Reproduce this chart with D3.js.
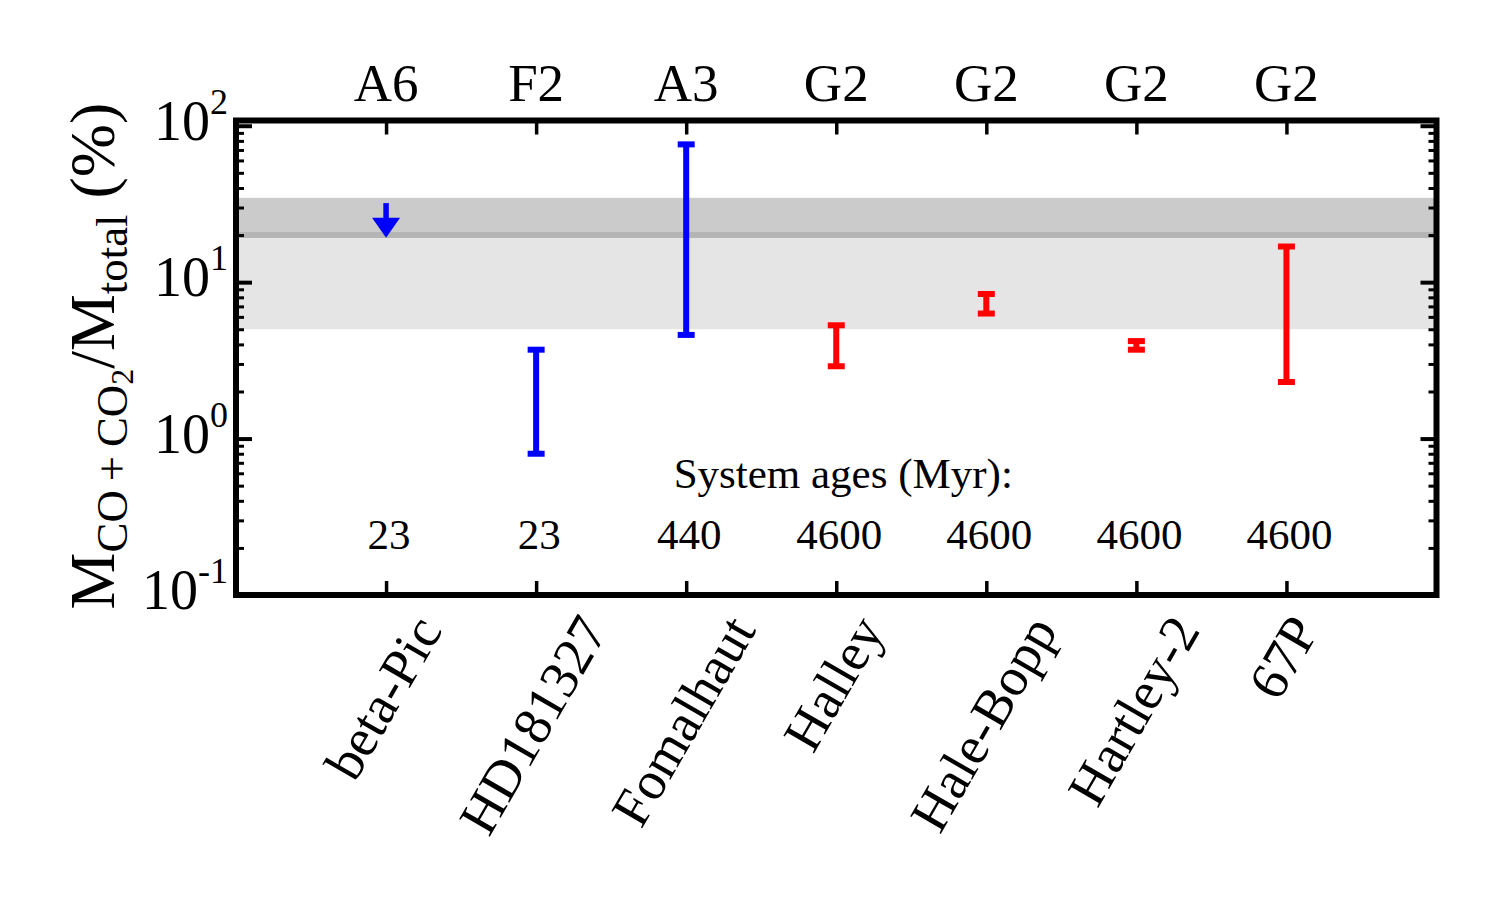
<!DOCTYPE html>
<html>
<head>
<meta charset="utf-8">
<script src="https://cdn.jsdelivr.net/npm/d3@7"></script>
<style>
  body { margin: 0; background: #fff; }
  text { font-family: "Liberation Serif", "Times New Roman", serif; fill: #000; }
</style>
</head>
<body>
<svg width="1500" height="900"></svg>
<script>
// data
const systems = ["beta-Pic", "HD181327", "Fomalhaut", "Halley", "Hale-Bopp", "Hartley-2", "67P"];
const spectralTypes = ["A6", "F2", "A3", "G2", "G2", "G2", "G2"];
const ages = ["23", "23", "440", "4600", "4600", "4600", "4600"];
const lowerVals = [null, 0.8, 4.6, 2.9, 6.3, 3.7, 2.3];
const upperVals = [null, 3.7, 76, 5.3, 8.4, 4.2, 16.9];
const pointColors = ["blue", "blue", "blue", "red", "red", "red", "red"];
// beta-Pic is an upper limit (arrow)
const limitName = "beta-Pic";
const limitTop = 32;
const limitTip = 19.2;
const limitHeadTop = 25.8;
// shaded ranges
const darkBand = [20, 34.6];
const lightBand = [5, 20];
const bandLine = 20;
const yMajor = [0.1, 1, 10, 100];
const yMajorExp = ["-1", "0", "1", "2"];

const svg = d3.select("svg");
const pLeft = 236, pRight = 1436.5, pTop = 120.5, pBottom = 595;

const x = d3.scalePoint().domain(systems).range([pLeft, pRight]).padding(1);
const y = d3.scaleLog().domain([0.1, 108]).range([pBottom, pTop]);

const g = svg.append("g");

// bands
g.append("rect")
  .attr("x", pLeft).attr("width", pRight - pLeft)
  .attr("y", y(darkBand[1])).attr("height", y(darkBand[0]) - y(darkBand[1]))
  .attr("fill", "#cbcbcb");
g.append("rect")
  .attr("x", pLeft).attr("width", pRight - pLeft)
  .attr("y", y(lightBand[1])).attr("height", y(lightBand[0]) - y(lightBand[1]))
  .attr("fill", "#e5e5e5");
g.append("line")
  .attr("x1", pLeft).attr("x2", pRight)
  .attr("y1", y(bandLine)).attr("y2", y(bandLine))
  .attr("stroke", "#b5b5b5").attr("stroke-width", 6);

// minor ticks
const yMinor = [];
[-1, 0, 1].forEach(e => { for (let k = 2; k <= 9; k++) yMinor.push(k * Math.pow(10, e)); });

function styleAxis(sel, w) {
  sel.select(".domain").remove();
  sel.selectAll(".tick line").attr("stroke", "#000").attr("stroke-width", w);
  sel.selectAll(".tick text").remove();
}

g.append("g").attr("transform", `translate(${pLeft},0)`)
  .call(d3.axisLeft(y).tickValues(yMajor).tickSize(-16))
  .call(s => styleAxis(s, 4));
g.append("g").attr("transform", `translate(${pLeft},0)`)
  .call(d3.axisLeft(y).tickValues(yMinor).tickSize(-8))
  .call(s => styleAxis(s, 3));
g.append("g").attr("transform", `translate(${pRight},0)`)
  .call(d3.axisRight(y).tickValues(yMajor).tickSize(-16))
  .call(s => styleAxis(s, 4));
g.append("g").attr("transform", `translate(${pRight},0)`)
  .call(d3.axisRight(y).tickValues(yMinor).tickSize(-8))
  .call(s => styleAxis(s, 3));
g.append("g").attr("transform", `translate(0,${pTop})`)
  .call(d3.axisTop(x).tickSize(-14))
  .call(s => styleAxis(s, 3.5));
g.append("g").attr("transform", `translate(0,${pBottom})`)
  .call(d3.axisBottom(x).tickSize(-14))
  .call(s => styleAxis(s, 3.5));

// frame
g.append("rect")
  .attr("x", pLeft).attr("y", pTop)
  .attr("width", pRight - pLeft).attr("height", pBottom - pTop)
  .attr("fill", "none").attr("stroke", "#000").attr("stroke-width", 6);

// error bars
const bars = systems.map((s, i) => ({ name: s, lo: lowerVals[i], hi: upperVals[i], c: pointColors[i] }))
  .filter(d => d.lo != null);
const capW = 8.5;
const eb = g.append("g");
eb.selectAll(".stem").data(bars).enter().append("line")
  .attr("x1", d => x(d.name)).attr("x2", d => x(d.name))
  .attr("y1", d => y(d.lo)).attr("y2", d => y(d.hi))
  .attr("stroke", d => d.c).attr("stroke-width", 6);
eb.selectAll(".capLo").data(bars).enter().append("line")
  .attr("x1", d => x(d.name) - capW).attr("x2", d => x(d.name) + capW)
  .attr("y1", d => y(d.lo)).attr("y2", d => y(d.lo))
  .attr("stroke", d => d.c).attr("stroke-width", 6);
eb.selectAll(".capHi").data(bars).enter().append("line")
  .attr("x1", d => x(d.name) - capW).attr("x2", d => x(d.name) + capW)
  .attr("y1", d => y(d.hi)).attr("y2", d => y(d.hi))
  .attr("stroke", d => d.c).attr("stroke-width", 6);

// upper limit arrow
const lx = x(limitName);
const limitColor = pointColors[systems.indexOf(limitName)];
g.append("line")
  .attr("x1", lx).attr("x2", lx)
  .attr("y1", y(limitTop)).attr("y2", y(limitHeadTop) + 1)
  .attr("stroke", limitColor).attr("stroke-width", 5.5);
g.append("path")
  .attr("d", `M${lx - 14},${y(limitHeadTop)} L${lx + 14},${y(limitHeadTop)} L${lx},${y(limitTip)} Z`)
  .attr("fill", limitColor);

// top labels (spectral types)
g.selectAll(".sp").data(systems).enter().append("text")
  .attr("x", d => x(d)).attr("y", 101)
  .attr("text-anchor", "middle").attr("font-size", 53)
  .text((d, i) => spectralTypes[i]);

// system ages
g.append("text")
  .attr("x", x("Halley") + 7).attr("y", 488)
  .attr("text-anchor", "middle").attr("font-size", 43)
  .text("System ages (Myr):");
g.selectAll(".age").data(systems).enter().append("text")
  .attr("x", d => x(d) + 3).attr("y", 549)
  .attr("text-anchor", "middle").attr("font-size", 43)
  .text((d, i) => ages[i]);

// y tick labels
yMajor.forEach((v, i) => {
  const t = g.append("text")
    .attr("x", 228).attr("y", y(v) + 14)
    .attr("text-anchor", "end").attr("font-size", 56);
  t.append("tspan").text("10");
  t.append("tspan").attr("font-size", 36).attr("dy", -26).text(yMajorExp[i]);
});

// rotated x labels
const xfs = 54;
const sin60 = Math.sin(Math.PI / 3), cos60 = 0.5;
systems.forEach(s => {
  const t = g.append("text")
    .attr("text-anchor", "middle").attr("font-size", xfs)
    .attr("dy", "0.34em")
    .text(s);
  const L = t.node().getComputedTextLength();
  const H = 1.1 * xfs;
  const cy = 606 + (L * sin60 + H * cos60) / 2;
  t.attr("transform", `translate(${x(s) - 3},${cy}) rotate(-60)`);
});

// y axis title
const F = 64;
const title = g.append("text")
  .attr("transform", `translate(114,356) rotate(-90)`)
  .attr("text-anchor", "middle").attr("font-size", F);
title.append("tspan").text("M");
title.append("tspan").attr("font-size", F * 0.7).attr("dy", F * 0.2).text("CO\u2009+\u2009CO");
title.append("tspan").attr("font-size", F * 0.5).attr("dy", F * 0.1).text("2");
title.append("tspan").attr("dy", -F * 0.3).text("/M");
title.append("tspan").attr("font-size", F * 0.7).attr("dy", F * 0.2).text("total");
title.append("tspan").attr("dy", -F * 0.2).text(" (%)");
</script>
</body>
</html>
